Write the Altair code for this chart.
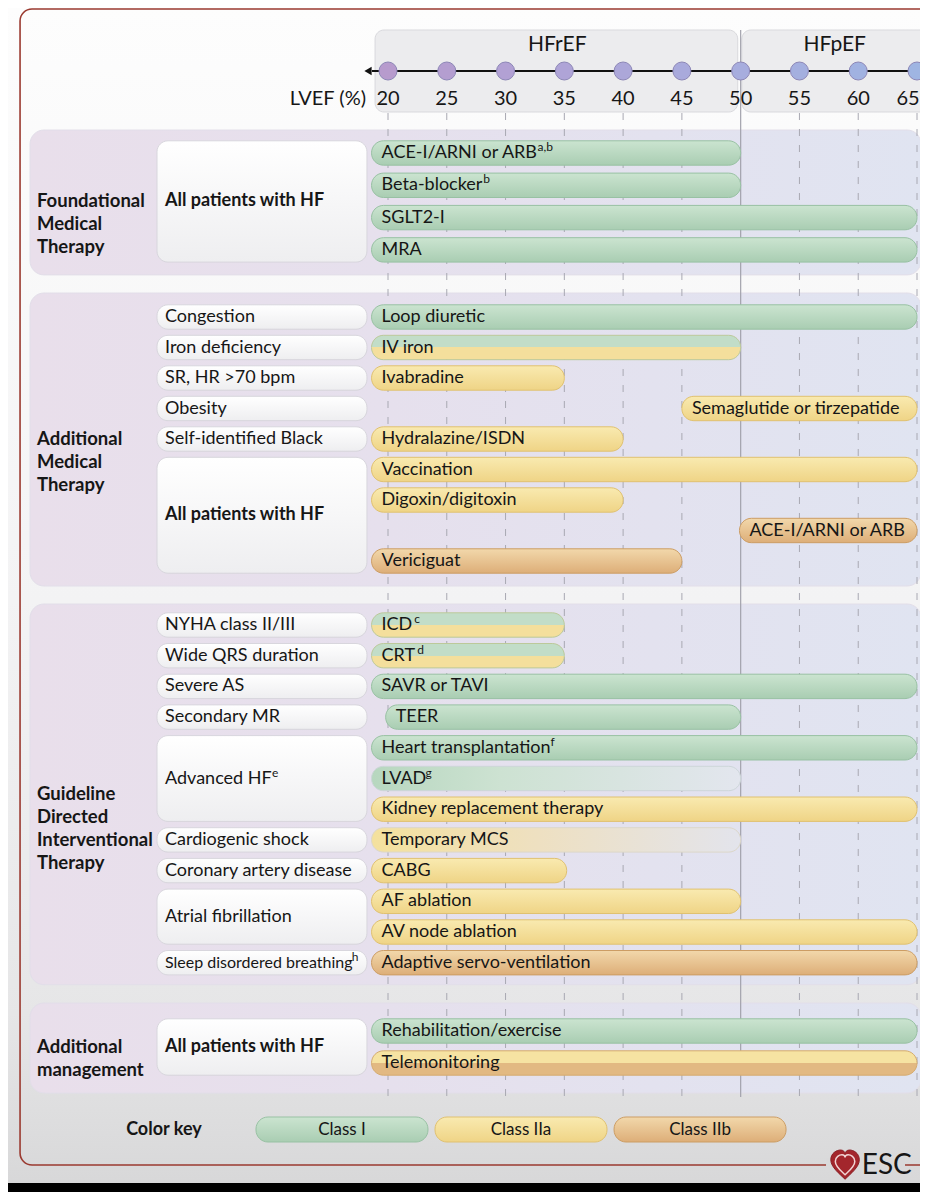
import altair as alt
import pandas as pd

# ---------------------------------------------------------------- data
LVEF_TICKS = [20, 25, 30, 35, 40, 45, 50, 55, 60, 65]

PHENOTYPES = ["HFrEF", "HFpEF"]
PHENO_START = [18.9, 50.1]
PHENO_END = [49.75, 67.0]
PHENO_TEXT_X = [34.4, 58.0]

SECTION_TITLES = [
    "Foundational\nMedical\nTherapy",
    "Additional\nMedical\nTherapy",
    "Guideline\nDirected\nInterventional\nTherapy",
    "Additional\nmanagement",
]

TREAT_SECTION = [0] * 4 + [1] * 9 + [2] * 12 + [3] * 2
TREAT_LABEL = [
    "ACE-I/ARNI or ARB", "Beta-blocker", "SGLT2-I", "MRA",
    "Loop diuretic", "IV iron", "Ivabradine", "Semaglutide or tirzepatide",
    "Hydralazine/ISDN", "Vaccination", "Digoxin/digitoxin", "ACE-I/ARNI or ARB",
    "Vericiguat",
    "ICD", "CRT", "SAVR or TAVI", "TEER", "Heart transplantation", "LVAD",
    "Kidney replacement therapy", "Temporary MCS", "CABG", "AF ablation",
    "AV node ablation", "Adaptive servo-ventilation",
    "Rehabilitation/exercise", "Telemonitoring",
]
TREAT_SUP = [
    "a,b", "b", "", "",
    "", "", "", "", "", "", "", "", "",
    "c", "d", "", "", "f", "g", "", "", "", "", "", "",
    "", "",
]
TREAT_START = [
    18.6, 18.6, 18.6, 18.6,
    18.6, 18.6, 18.6, 45.0, 18.6, 18.6, 18.6, 49.9, 18.6,
    18.6, 18.6, 18.6, 19.8, 18.6, 18.6, 18.6, 18.6, 18.6, 18.6, 18.6, 18.6,
    18.6, 18.6,
]
TREAT_END = [
    50, 50, 65, 65,
    65, 50, 35, 65, 40, 65, 40, 65, 45,
    35, 35, 65, 50, 65, 50, 65, 50, 35.2, 50, 65, 65,
    65, 65,
]
TREAT_CLASS = [
    "I", "I", "I", "I",
    "I", "I/IIa", "IIa", "IIa", "IIa", "IIa", "IIa", "IIb", "IIb",
    "I/IIa", "I/IIa", "I", "I", "I", "I~", "IIa", "IIa~", "IIa", "IIa", "IIa", "IIb",
    "I", "IIa/IIb",
]

COND_SECTION = [0, 1, 1, 1, 1, 1, 1, 2, 2, 2, 2, 2, 2, 2, 2, 2, 3]
COND_LABEL = [
    "All patients with HF",
    "Congestion", "Iron deficiency", "SR, HR >70 bpm", "Obesity",
    "Self-identified Black", "All patients with HF",
    "NYHA class II/III", "Wide QRS duration", "Severe AS", "Secondary MR",
    "Advanced HF", "Cardiogenic shock", "Coronary artery disease",
    "Atrial fibrillation", "Sleep disordered breathing",
    "All patients with HF",
]
COND_SUP = ["", "", "", "", "", "", "", "", "", "", "", "e", "", "", "", "h", ""]
COND_FIRST_ROW = [0, 0, 1, 2, 3, 4, 5, 0, 1, 2, 3, 4, 7, 8, 9, 11, 0]
COND_NROWS = [4, 1, 1, 1, 1, 1, 4, 1, 1, 1, 1, 3, 1, 1, 2, 1, 2]
COND_BOLD = [True, False, False, False, False, False, True,
             False, False, False, False, False, False, False, False, False, True]

KEY_CLASSES = ["Class I", "Class IIa", "Class IIb"]
KEY_STYLE = ["I", "IIa", "IIb"]

# ---------------------------------------------------------------- layout
FONT = "Lato"
W, H = 912, 1184
PXU = 529 / 45.0                      # pixels per LVEF unit
XMIN = 20 - 380 / PXU
XMAX = 20 + 532 / PXU
YMIN, YMAX = 8, 1192

SEC_FIRST_Y = [153, 317, 625, 1031]
SEC_PITCH = [32.3, 30.5, 30.7, 32.0]
SEC_PAD = [(23, 25), (24, 25), (21, 22), (28, 30)]
HALF = 12.2

BORDER_X = (-11.3, 67.5)
PANEL_X = (-10.45, 65.34)
TITLE_X = -9.86
BOX_X = (0.35, 18.21)
BOX_TEXT_X = 1.03
KEY_LABEL_X = 0.94
KEY_X0, KEY_W, KEY_GAP = 8.77, 14.63, 0.6
KEY_Y = 1129.5

BAR_FS = 18
COND_FS = 18
SMALL_FS = 16
SUP_FS = 12
BAR_DX = 10
SUP_GAP = 2

# approximate Lato advance widths (em) and kerning, used to place superscripts
CHAR_EM = {
    "A": .67, "B": .63, "C": .66, "D": .73, "E": .55, "F": .55, "G": .71, "H": .77,
    "I": .30, "L": .49, "M": .90, "N": .75, "R": .63, "S": .52, "T": .57, "V": .62,
    "a": .49, "b": .55, "c": .45, "d": .55, "e": .52, "f": .32, "g": .50, "h": .55,
    "i": .23, "k": .50, "l": .23, "m": .83, "n": .55, "o": .55, "p": .55, "r": .36,
    "s": .42, "t": .35, "u": .55, "v": .49, "y": .49, "z": .45, "x": .48,
    " ": .19, "-": .34, "/": .38, ",": .22,
}
KERN_EM = {"LV": -.12, "VA": -.08, "AV": -.08, "TA": -.06}


def text_px(s, size):
    em = sum(CHAR_EM.get(ch, 0.5) for ch in s)
    em += sum(KERN_EM.get(s[i:i + 2], 0) for i in range(len(s) - 1))
    return em * size * 1.01


def row_y(sec, k):
    return SEC_FIRST_Y[sec] + k * SEC_PITCH[sec]


XS = alt.Scale(domain=[XMIN, XMAX], zero=False, nice=False)
YS = alt.Scale(domain=[YMIN, YMAX], zero=False, nice=False, reverse=True)


def X(f):
    return alt.X(f, type="quantitative", scale=XS, axis=None)


def X2(f):
    return alt.X2(f)


def Y(f):
    return alt.Y(f, type="quantitative", scale=YS, axis=None)


def vgrad(top, bot):
    return alt.LinearGradient(
        gradient="linear",
        stops=[alt.GradientStop(color=top, offset=0), alt.GradientStop(color=bot, offset=1)],
        x1=0, x2=0, y1=0, y2=1)


def split(top, bot):
    return alt.LinearGradient(
        gradient="linear",
        stops=[alt.GradientStop(color=top, offset=0), alt.GradientStop(color=top, offset=0.5),
               alt.GradientStop(color=bot, offset=0.5), alt.GradientStop(color=bot, offset=1)],
        x1=0, x2=0, y1=0, y2=1)


def hgrad(stops):
    return alt.LinearGradient(
        gradient="linear",
        stops=[alt.GradientStop(color=c, offset=o) for c, o in stops],
        x1=0, x2=1, y1=0, y2=0)


STYLES = {
    "I": (vgrad("#cbe4d0", "#a9cdb2"), "#98c1a3"),
    "IIa": (vgrad("#f9eab0", "#efd486"), "#e0c170"),
    "IIb": (vgrad("#f2d8ab", "#ddae78"), "#cc9d64"),
    "I/IIa": (split("#c2ddc8", "#f4df9c"), "#bcc99a"),
    "IIa/IIb": (split("#f6e3a2", "#e2b982"), "#d5ac70"),
    "I~": (hgrad([("#b7d7bf", 0), ("#cde2d2", 0.35), ("#e3e6ee", 1)]), "#cdd6d9"),
    "IIa~": (hgrad([("#f4e19d", 0), ("#eee0c1", 0.45), ("#e3e4ec", 1)]), "#dcd7c9"),
}

# ---------------------------------------------------------------- frames
bg_df = pd.DataFrame({"x": [XMIN], "x2": [XMAX], "y": [YMIN], "y2": [YMAX]})
strip_df = pd.DataFrame({"x": [XMIN], "x2": [XMAX], "y": [1183], "y2": [YMAX]})
border_df = pd.DataFrame({"x": [BORDER_X[0]], "x2": [BORDER_X[1]], "y": [9], "y2": [1165]})

pheno_df = pd.DataFrame({"name": PHENOTYPES, "x": PHENO_START, "x2": PHENO_END,
                         "tx": PHENO_TEXT_X, "y": [30] * 2, "y2": [112] * 2, "ty": [45] * 2})

sec_rows = []
for s, title in enumerate(SECTION_TITLES):
    n = TREAT_SECTION.count(s)
    first, last = row_y(s, 0), row_y(s, n - 1)
    sec_rows.append({"title": title, "x": PANEL_X[0], "x2": PANEL_X[1],
                     "y": first - SEC_PAD[s][0], "y2": last + SEC_PAD[s][1],
                     "tx": TITLE_X, "ty": (first + last) / 2})
sec_df = pd.DataFrame(sec_rows)

grid_df = pd.DataFrame({"v": [t for t in LVEF_TICKS if t != 50], "y": 113, "y2": 1097})
mid_df = pd.DataFrame({"v": [50], "y": [30], "y2": [1097]})
tick_df = pd.DataFrame({"v": LVEF_TICKS, "y": 71, "ty": 99, "lab": [str(t) for t in LVEF_TICKS]})
axis_df = pd.DataFrame({"x": [18.64], "x2": [65.0], "y": [71]})
arrow_df = pd.DataFrame({"x": [18.3], "y": [71]})
lvef_df = pd.DataFrame({"x": [18.13], "y": [99], "t": ["LVEF (%)"]})

treat_rows = []
counters = {}
for sec, lab, sup, a, b, c in zip(TREAT_SECTION, TREAT_LABEL, TREAT_SUP, TREAT_START,
                                  TREAT_END, TREAT_CLASS):
    k = counters.get(sec, 0)
    counters[sec] = k + 1
    yc = row_y(sec, k)
    treat_rows.append({"label": lab, "sup": sup, "x": a, "x2": b, "cls": c, "yc": yc,
                       "y": yc - HALF, "y2": yc + HALF,
                       "sx": a + (BAR_DX + text_px(lab, BAR_FS) + SUP_GAP) / PXU})
treat_df = pd.DataFrame(treat_rows)
treat_sup_df = treat_df[treat_df["sup"] != ""]

cond_rows = []
for sec, lab, sup, f, n, bold in zip(COND_SECTION, COND_LABEL, COND_SUP, COND_FIRST_ROW,
                                     COND_NROWS, COND_BOLD):
    y0 = row_y(sec, f) - HALF
    y1 = row_y(sec, f + n - 1) + HALF
    small = len(lab) > 24
    fs = SMALL_FS if small else COND_FS
    cond_rows.append({"label": lab, "sup": sup, "bold": bold, "small": small,
                      "x": BOX_X[0], "x2": BOX_X[1], "y": y0, "y2": y1,
                      "yc": (y0 + y1) / 2, "tx": BOX_TEXT_X,
                      "sx": BOX_TEXT_X + (text_px(lab, fs) + SUP_GAP) / PXU})
cond_df = pd.DataFrame(cond_rows)
cond_sup_df = cond_df[cond_df["sup"] != ""]

key_df = pd.DataFrame({
    "label": KEY_CLASSES, "cls": KEY_STYLE,
    "x": [KEY_X0 + i * (KEY_W + KEY_GAP) for i in range(3)],
    "x2": [KEY_X0 + i * (KEY_W + KEY_GAP) + KEY_W for i in range(3)],
    "y": KEY_Y - 12.5, "y2": KEY_Y + 12.5, "yc": KEY_Y})
key_df["tx"] = (key_df["x"] + key_df["x2"]) / 2
keylab_df = pd.DataFrame({"x": [KEY_LABEL_X], "y": [KEY_Y], "t": ["Color key"]})

esc_cover = pd.DataFrame({"x": [57.26], "x2": [63.98], "y": [1158], "y2": [1172]})
esc_heart = pd.DataFrame({"x": [58.88], "y": [1165]})
esc_text = pd.DataFrame({"x": [60.3], "y": [1166], "t": ["ESC"]})


# ---------------------------------------------------------------- layers
def rect_layer(df, **mark):
    return alt.Chart(df).mark_rect(**mark).encode(x=X("x"), x2=X2("x2"), y=Y("y"), y2=alt.Y2("y2"))


def text_layer(df, xf, yf, tf, **mark):
    base = dict(font=FONT, color="#161616", baseline="middle")
    base.update(mark)
    return alt.Chart(df).mark_text(**base).encode(x=X(xf), y=Y(yf), text=alt.Text(tf, type="nominal"))


layers = []
layers.append(rect_layer(bg_df, fill=alt.LinearGradient(
    gradient="linear", x1=0, x2=0, y1=0, y2=1,
    stops=[alt.GradientStop(color="#fdfdfd", offset=0), alt.GradientStop(color="#f3f3f4", offset=0.5),
           alt.GradientStop(color="#e6e6e7", offset=0.85), alt.GradientStop(color="#d7d7d8", offset=1)])))
layers.append(rect_layer(border_df, fillOpacity=0, stroke="#9a3a30", strokeWidth=1.6,
                         cornerRadius=12, clip=True))

# header
layers.append(rect_layer(pheno_df, fill="#ececee", stroke="#d9d9dd", strokeWidth=1,
                         cornerRadius=9, clip=True))
layers.append(text_layer(pheno_df, "tx", "ty", "name", fontSize=21, align="center"))

# section panels
layers.append(rect_layer(sec_df, fill=hgrad([("#e9dfeb", 0), ("#e6e0ed", 0.4), ("#e0e4f1", 1)]),
                         stroke="#e2dee9", strokeWidth=1, cornerRadius=14, clip=True))

# grid
layers.append(alt.Chart(grid_df).mark_rule(color="#a8a8b2", strokeWidth=1, strokeDash=[7, 9])
              .encode(x=X("v"), y=Y("y"), y2=alt.Y2("y2")))
layers.append(alt.Chart(mid_df).mark_rule(color="#a2a2ac", strokeWidth=1.2)
              .encode(x=X("v"), y=Y("y"), y2=alt.Y2("y2")))

# axis line, arrow, circles, tick labels
layers.append(alt.Chart(axis_df).mark_rule(color="#111111", strokeWidth=2)
              .encode(x=X("x"), x2=X2("x2"), y=Y("y")))
layers.append(alt.Chart(arrow_df).mark_point(shape="triangle-left", filled=True, size=70,
                                             color="#111111", opacity=1)
              .encode(x=X("x"), y=Y("y")))
layers.append(alt.Chart(tick_df).mark_point(shape="circle", filled=True, size=324, opacity=1,
                                            stroke="#8c86b6", strokeWidth=1)
              .encode(x=X("v"), y=Y("y"),
                      fill=alt.Fill("v:Q", scale=alt.Scale(domain=[20, 65],
                                                           range=["#b79bcd", "#9fb5e2"]),
                                    legend=None)))
layers.append(text_layer(tick_df[tick_df["v"] < 65], "v", "ty", "lab", fontSize=20, align="center"))
layers.append(text_layer(tick_df[tick_df["v"] == 65], "v", "ty", "lab", fontSize=20,
                         align="center", dx=-9))
layers.append(text_layer(lvef_df, "x", "y", "t", fontSize=20, align="right"))

# section titles
layers.append(text_layer(sec_df, "tx", "ty", "title", fontSize=18.5, fontWeight="bold",
                         align="left", lineBreak="\n", lineHeight=23))

# condition boxes
layers.append(rect_layer(cond_df, fill="#c9c6cf", opacity=0.7, cornerRadius=11, yOffset=2, xOffset=1))
layers.append(rect_layer(cond_df, fill=vgrad("#ffffff", "#eeeef0"), stroke="#d8d6dd",
                         strokeWidth=1, cornerRadius=11))
for bold in (True, False):
    for small in (False, True):
        sub = cond_df[(cond_df["bold"] == bold) & (cond_df["small"] == small)]
        if len(sub) == 0:
            continue
        layers.append(text_layer(sub, "tx", "yc", "label",
                                 fontSize=SMALL_FS if small else COND_FS,
                                 fontWeight="bold" if bold else "normal", align="left"))
layers.append(text_layer(cond_sup_df, "sx", "yc", "sup", fontSize=SUP_FS, align="left", dy=-6))

# treatment bars
for cls, (fill, stroke) in STYLES.items():
    sub = treat_df[treat_df["cls"] == cls]
    if len(sub) == 0:
        continue
    layers.append(rect_layer(sub, fill=fill, stroke=stroke, strokeWidth=1, cornerRadius=12))
layers.append(text_layer(treat_df, "x", "yc", "label", fontSize=BAR_FS, align="left", dx=BAR_DX))
layers.append(text_layer(treat_sup_df, "sx", "yc", "sup", fontSize=SUP_FS, align="left", dy=-6))

# colour key
for cls in KEY_STYLE:
    fill, stroke = STYLES[cls]
    layers.append(rect_layer(key_df[key_df["cls"] == cls], fill=fill, stroke=stroke,
                             strokeWidth=1, cornerRadius=12))
layers.append(text_layer(key_df, "tx", "yc", "label", fontSize=17, align="center"))
layers.append(text_layer(keylab_df, "x", "y", "t", fontSize=18, fontWeight="bold", align="center"))

# ESC logo
layers.append(rect_layer(esc_cover, fill="#d9d9da"))
HEART = ("M0,0.95 C-0.35,0.6 -0.95,0.15 -0.95,-0.35 C-0.95,-0.8 -0.55,-1 -0.3,-1 "
         "C-0.12,-1 0,-0.88 0,-0.72 C0,-0.88 0.12,-1 0.3,-1 C0.55,-1 0.95,-0.8 0.95,-0.35 "
         "C0.95,0.15 0.35,0.6 0,0.95 Z")
layers.append(alt.Chart(esc_heart).mark_point(shape=HEART, filled=True, size=900, opacity=1,
                                              color="#a3262c", stroke="#8a1f24", strokeWidth=1)
              .encode(x=X("x"), y=Y("y")))
layers.append(alt.Chart(esc_heart).mark_point(shape=HEART, filled=False, size=420, opacity=1,
                                              color="#f1d4d4", strokeWidth=1.5)
              .encode(x=X("x"), y=Y("y")))
layers.append(text_layer(esc_text, "x", "y", "t", fontSize=28, align="left"))

layers.append(rect_layer(strip_df, fill="#000000"))

chart = alt.layer(*layers).properties(
    width=W, height=H, padding=0,
    autosize=alt.AutoSizeParams(type="none"),
    background="#ffffff",
).configure_view(stroke=None)

chart.save("out.html", embed_options={"renderer": "svg", "actions": False})
